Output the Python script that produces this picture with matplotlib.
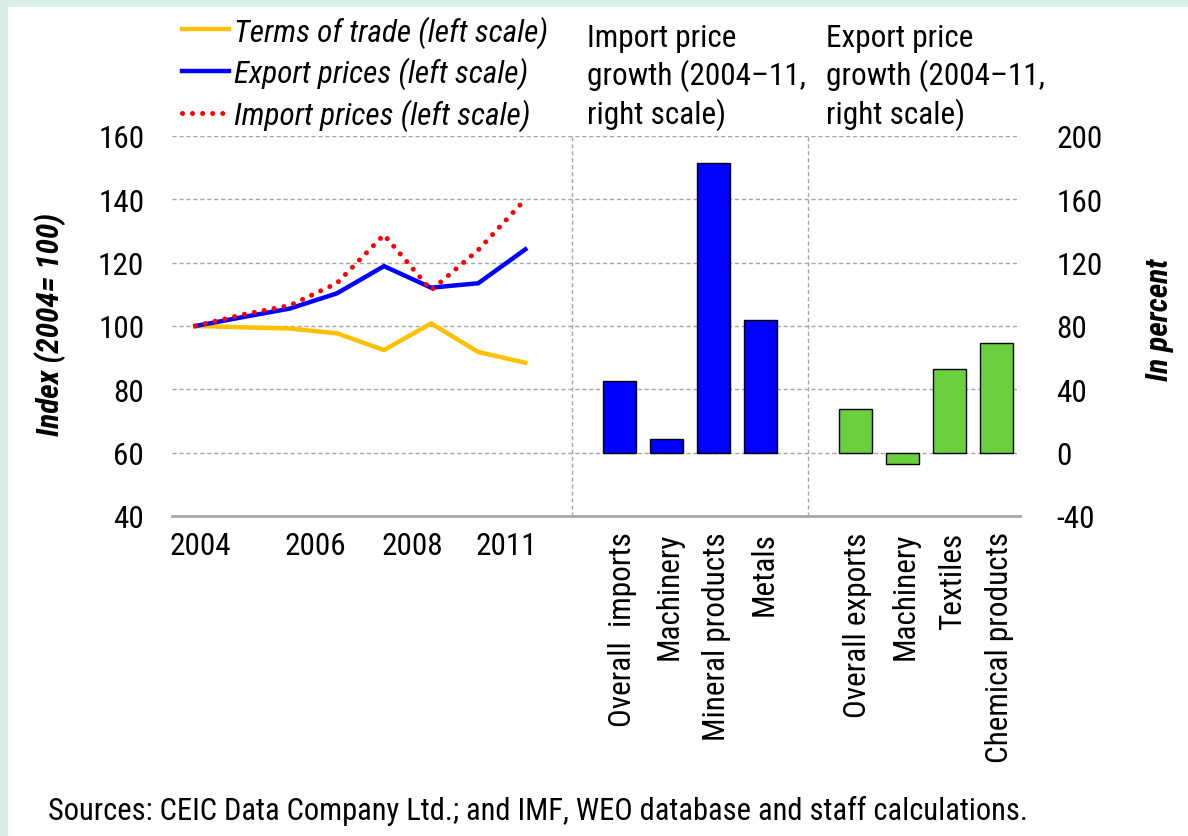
import numpy as np
import matplotlib
matplotlib.use('Agg')
import matplotlib.pyplot as plt
from matplotlib import font_manager as fm
from matplotlib.patches import Rectangle
from matplotlib.lines import Line2D

# pick a narrow font if one is around
names = {f.name for f in fm.fontManager.ttflist}
narrow = 'DejaVu Sans'
for cand in ['Liberation Sans Narrow', 'Roboto Condensed', 'DejaVu Sans Condensed', 'Noto Sans Condensed', 'Open Sans Condensed']:
	if cand in names:
		narrow = cand
		break
plt.rcParams['font.family'] = [narrow, 'DejaVu Sans']
plt.rcParams['axes.unicode_minus'] = False

# data
years = ['2004', '2005', '2006', '2007', '2008', '2009', '2010', '2011']
terms_of_trade = [100, 99.6, 99.2, 97.7, 92.4, 100.8, 91.8, 88.4]
export_prices = [100, 102.8, 105.5, 110.3, 118.9, 112.1, 113.5, 124.2]
import_prices = [100, 103.6, 106.5, 113.5, 128.8, 111.3, 124.0, 140.0]

year_labels = ['2004', '2006', '2008', '2011']
year_label_pos = [0.1, 2.55, 4.6, 6.6]

imp_cats = ['Overall  imports', 'Machinery', 'Mineral products', 'Metals']
imp_growth = [45.1, 8.8, 183.2, 83.6]
exp_cats = ['Overall exports', 'Machinery', 'Textiles', 'Chemical products']
exp_growth = [27.8, -7.4, 52.6, 69.1]

mint = '#d9efe7'
yellow = '#ffc000'
blue = '#0000ff'
red = '#ff0000'
green = '#6ccf40'
grid_c = '#a6a6a6'
fs = 22.5

W, H = 1188, 837
fig = plt.figure(figsize=(W/100, H/100), dpi=100)
fig.add_artist(Rectangle((0, 1-8/H), 1, 8/H, transform=fig.transFigure, color=mint, lw=0))
fig.add_artist(Rectangle((0, 0), 8/W, 1, transform=fig.transFigure, color=mint, lw=0))

ax = fig.add_axes([172/W, 1-517/H, (1020-172)/W, 380/H])
ax2 = ax.twinx()
ax.set_xlim(-0.5, 17.5)
ax.set_ylim(40, 160)
ax2.set_ylim(-40, 200)

x = np.arange(len(years))
imp_pos = np.arange(len(imp_cats)) + len(years) + 1
exp_pos = np.arange(len(exp_cats)) + imp_pos[-1] + 2

# grid + separators
ax.set_yticks(np.arange(40, 161, 20))
ax.yaxis.grid(True, color=grid_c, linestyle=(0, (3, 2)), lw=1)
ax.set_axisbelow(True)
for sep in [len(years), imp_pos[-1] + 1]:
	ax.axvline(sep, color=grid_c, linestyle=(0, (3, 2)), lw=1, zorder=0)

ax.plot(x, terms_of_trade, color=yellow, lw=3.2, solid_joinstyle='miter')
ax.plot(x, export_prices, color=blue, lw=3.2, solid_joinstyle='miter')
ax.plot(x, import_prices, color=red, lw=3.6, linestyle=(0, (0.01, 2.0)), dash_capstyle='round')

ax2.bar(imp_pos, imp_growth, width=0.7, color=blue, edgecolor='black', lw=1)
ax2.bar(exp_pos, exp_growth, width=0.7, color=green, edgecolor='black', lw=1)

for a in (ax, ax2):
	for s in ['left', 'right', 'top', 'bottom']:
		a.spines[s].set_visible(False)
ax.spines['bottom'].set_visible(True)
ax.spines['bottom'].set_color(grid_c)
ax.spines['bottom'].set_linewidth(2)

ax.tick_params(axis='y', length=0, labelsize=fs, pad=20)
ax2.set_yticks(np.arange(-40, 201, 40))
ax2.tick_params(axis='y', length=0, labelsize=fs, pad=26)

ax.set_xticks(list(year_label_pos) + list(imp_pos + 0.06) + list(exp_pos + 0.06))
ax.set_xticklabels(year_labels + imp_cats + exp_cats)
ax.tick_params(axis='x', length=0, labelsize=fs, pad=11)
for lab in ax.get_xticklabels()[len(year_labels):]:
	lab.set_rotation(90)
	lab.set_va('top')
	lab.set_ha('center')

# legend
handles = [Line2D([], [], color=yellow, lw=3.2),
	Line2D([], [], color=blue, lw=3.2),
	Line2D([], [], color=red, lw=3.6, linestyle=(0, (0.01, 2.0)), dash_capstyle='round')]
labels = ['Terms of trade (left scale)', 'Export prices (left scale)', 'Import prices (left scale)']
leg = fig.legend(handles, labels, loc='upper left', bbox_to_anchor=(182/W, 1-16/H),
	frameon=False, borderpad=0, borderaxespad=0, handlelength=1.5, handletextpad=0.15,
	labelspacing=0.3, prop={'size': fs, 'style': 'italic'})

fig.text(587/W, 1-24/H, 'Import price\ngrowth (2004\u201311,\nright scale)', fontsize=fs, va='top', ha='left', linespacing=1.25)
fig.text(826/W, 1-24/H, 'Export price\ngrowth (2004\u201311,\nright scale)', fontsize=fs, va='top', ha='left', linespacing=1.25)

fig.text(50/W, 1-325/H, 'Index (2004= 100)', rotation=90, fontsize=fs, fontweight='bold', style='italic', ha='center', va='center')
fig.text(1160/W, 1-320/H, 'In percent', rotation=90, fontsize=fs, fontweight='bold', style='italic', ha='center', va='center')

fig.text(48/W, 1-811/H, 'Sources: CEIC Data Company Ltd.; and IMF, WEO database and staff calculations.', fontsize=22, ha='left', va='center')

fig.savefig('out.png', dpi=100, facecolor='white')
